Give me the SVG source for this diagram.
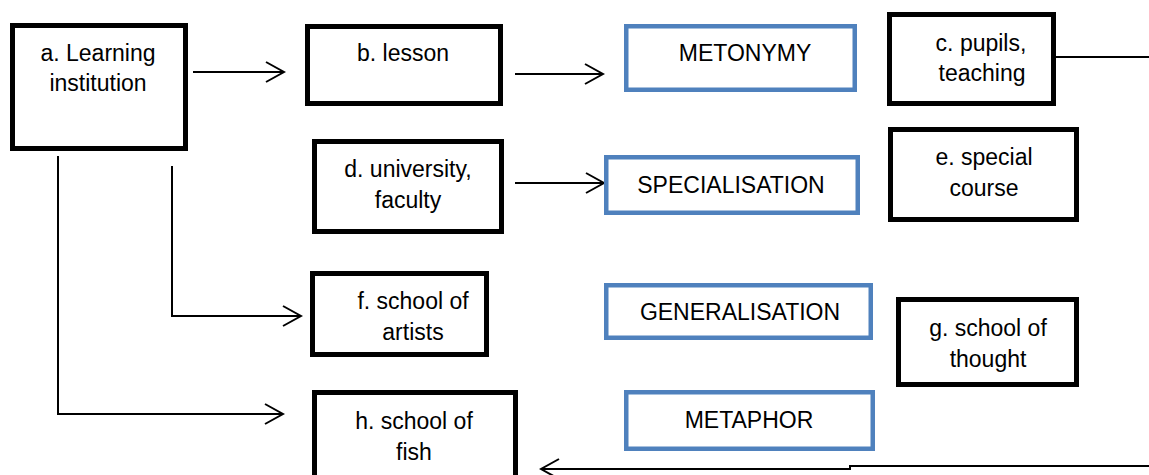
<svg xmlns="http://www.w3.org/2000/svg" width="1149" height="475" viewBox="0 0 1149 475">
<defs>
<style>
.n rect{fill:#fff;stroke:#000;stroke-width:5}
.m rect{fill:#fff;stroke:#4F81BD;stroke-width:4.5}
text{font-family:"Liberation Sans",Arial,sans-serif;font-size:23px;fill:#000;text-anchor:middle}
.c{fill:none;stroke:#000;stroke-width:2}
</style>
<marker id="ah" markerUnits="userSpaceOnUse" viewBox="-20 -12 22 24" refX="0" refY="0" markerWidth="22" markerHeight="24" orient="auto">
<path d="M-18,-10 L0,0 L-18,10" fill="none" stroke="#000" stroke-width="2"/>
</marker>
</defs>
<rect width="1149" height="475" fill="#fff"/>
<g id="connectors">
<line class="c" x1="193" y1="72" x2="284" y2="72" marker-end="url(#ah)"/>
<line class="c" x1="515" y1="74" x2="603" y2="74" marker-end="url(#ah)"/>
<line class="c" x1="1056" y1="57" x2="1149" y2="57"/>
<line class="c" x1="515" y1="183" x2="604" y2="183" marker-end="url(#ah)"/>
<polyline class="c" points="172,166 172,316 301,316" marker-end="url(#ah)"/>
<polyline class="c" points="58,156 58,414 283,414" marker-end="url(#ah)"/>
<polyline class="c" points="1149,466 850,466 850,469 541,469" marker-end="url(#ah)"/>
</g>
<g id="node-a" class="n"><rect x="12.5" y="25.5" width="173" height="123"/><text x="98" y="61">a. Learning</text><text x="98" y="91">institution</text></g>
<g id="node-b" class="n"><rect x="307.5" y="26.5" width="193" height="77"/><text x="403" y="61">b. lesson</text></g>
<g id="node-metonymy" class="m"><rect x="626.25" y="26.25" width="228.5" height="63.5"/><text x="745" y="61">METONYMY</text></g>
<g id="node-c" class="n"><rect x="889.5" y="14.5" width="164" height="89"/><text x="981" y="51">c. pupils,</text><text x="982" y="81">teaching</text></g>
<g id="node-d" class="n"><rect x="314.5" y="141.5" width="187" height="90"/><text x="408" y="177">d. university,</text><text x="408" y="208">faculty</text></g>
<g id="node-specialisation" class="m"><rect x="606.25" y="157.25" width="251.5" height="55.5"/><text x="731" y="193">SPECIALISATION</text></g>
<g id="node-e" class="n"><rect x="890.5" y="129.5" width="186" height="90"/><text x="984" y="165">e. special</text><text x="984" y="196">course</text></g>
<g id="node-f" class="n"><rect x="312.5" y="273.5" width="174" height="81"/><text x="413" y="309">f. school of</text><text x="413" y="340">artists</text></g>
<g id="node-generalisation" class="m"><rect x="606.25" y="285.25" width="264.5" height="52.5"/><text x="740" y="320">GENERALISATION</text></g>
<g id="node-g" class="n"><rect x="898.5" y="299.5" width="178" height="85"/><text x="988" y="336">g. school of</text><text x="988" y="367">thought</text></g>
<g id="node-h" class="n"><rect x="314.5" y="392.5" width="201" height="90"/><text x="414" y="429">h. school of</text><text x="414" y="460">fish</text></g>
<g id="node-metaphor" class="m"><rect x="626.25" y="392.25" width="246.5" height="56.5"/><text x="749" y="428">METAPHOR</text></g>
</svg>
